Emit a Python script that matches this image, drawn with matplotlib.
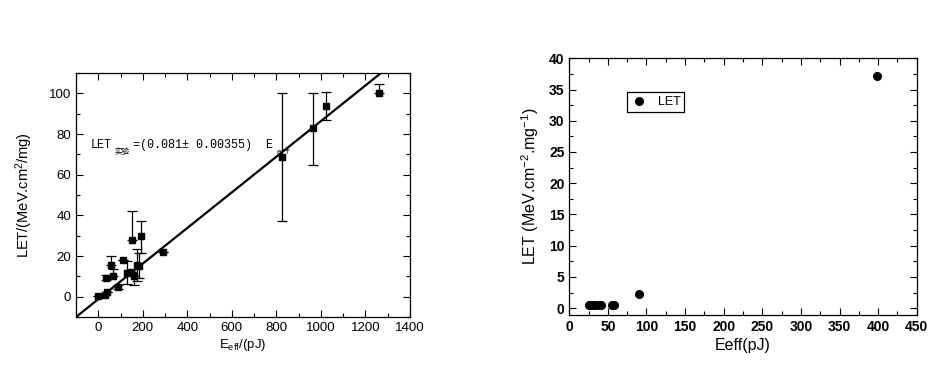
import numpy as np
import matplotlib
matplotlib.use("Agg")
import matplotlib.pyplot as plt
from matplotlib.ticker import MultipleLocator

plt.rcParams['font.family'] = ['Liberation Sans', 'DejaVu Sans']
plt.rcParams['mathtext.default'] = 'regular'

# Left panel: measured LET vs effective energy, with error bars
e_left = [0, 31, 39, 36, 57, 67, 90, 112, 130, 145, 152, 161, 174, 184, 192, 291, 826, 965, 1024, 1260]
let_left = [0.3, 0.8, 2.3, 9.3, 15.8, 10.0, 4.8, 17.8, 11.8, 12.0, 28.0, 10.0, 15.5, 15.2, 30.0, 22.2, 68.8, 83.0, 94.0, 100.0]
err_lo = [0, 0, 0, 1.2, 0, 0, 0.8, 0, 5.8, 0, 0, 4.5, 8.0, 6.0, 8.5, 0, 31.6, 18.0, 7.0, 0]
err_hi = [0, 0, 0, 1.2, 4.4, 3.7, 0.8, 0, 5.8, 0, 14.0, 0, 8.0, 6.5, 7.0, 0, 31.2, 17.0, 6.5, 4.5]

# linear fit drawn across the panel
fit_slope = 0.0876
fit_intercept = -1.24
fit_x = [-100, 1400]

# Right panel
e_right = [26, 29, 33, 38, 41, 55, 58, 90, 399]
let_right = [0.5, 0.5, 0.5, 0.5, 0.5, 0.5, 0.5, 2.2, 37.1]

fig = plt.figure(figsize=(9.36, 3.69), dpi=100)

# ---- left axes
ax1 = fig.add_axes([0.0812, 0.1409, 0.3568, 0.6612])
fx = np.array(fit_x, dtype=float)
ax1.plot(fx, fit_slope * fx + fit_intercept, color='black', lw=1.6)
ax1.errorbar(e_left, let_left, yerr=[err_lo, err_hi], fmt='s', color='black',
             markersize=4, elinewidth=0.9, capsize=3.5, capthick=0.9)
ax1.set_xlim(-100, 1400)
ax1.set_ylim(-10, 110)
ax1.xaxis.set_major_locator(MultipleLocator(200))
ax1.xaxis.set_minor_locator(MultipleLocator(100))
ax1.yaxis.set_major_locator(MultipleLocator(20))
ax1.yaxis.set_minor_locator(MultipleLocator(10))
ax1.tick_params(which='both', direction='in', top=True, right=True, labelsize=9.5, width=0.8)
ax1.tick_params(which='major', length=5)
ax1.tick_params(which='minor', length=3)
for s in ax1.spines.values():
    s.set_linewidth(0.9)
ax1.set_xlabel('E$_{eff}$/(pJ)', fontsize=9.5, labelpad=2)
ax1.set_ylabel('LET/(MeV.cm$^2$/mg)', fontsize=10.5, labelpad=10)

# fit annotation
mono = ['Liberation Mono', 'DejaVu Sans Mono']
ax1.text(-33, 73, 'LET', fontsize=8.5, family=mono)
ax1.text(72, 70.2, '实验', fontsize=5.5, family=['Noto Sans CJK SC', 'DejaVu Sans'])
ax1.text(155, 73, '=(0.081± 0.00355)  E', fontsize=8.5, family=mono)
ax1.text(800, 70.2, 'eff', fontsize=5.5, family=mono)

# ---- right axes
ax2 = fig.add_axes([0.6082, 0.1463, 0.3712, 0.6957])
ax2.plot(e_right, let_right, 'o', color='black', markersize=5.5, label='LET')
ax2.set_xlim(0, 450)
ax2.set_ylim(-1.1, 40)
ax2.xaxis.set_major_locator(MultipleLocator(50))
ax2.xaxis.set_minor_locator(MultipleLocator(25))
ax2.yaxis.set_major_locator(MultipleLocator(5))
ax2.yaxis.set_minor_locator(MultipleLocator(2.5))
ax2.tick_params(which='both', direction='in', top=True, right=True, labelsize=10, width=0.8)
ax2.tick_params(which='major', length=5)
ax2.tick_params(which='minor', length=3)
for lab in ax2.get_xticklabels() + ax2.get_yticklabels():
    lab.set_fontweight('bold')
for s in ax2.spines.values():
    s.set_linewidth(0.9)
ax2.set_xlabel('Eeff(pJ)', fontsize=11.5, labelpad=3)
ax2.set_ylabel('LET (MeV.cm$^{-2}$.mg$^{-1}$)', fontsize=11.5, labelpad=6)
leg = ax2.legend(loc='upper left', bbox_to_anchor=(0.147, 0.892), fontsize=9,
                 fancybox=False, edgecolor='black', framealpha=1, handletextpad=0.8,
                 borderpad=0.3, handlelength=1.4, markerscale=1.0)
leg.get_frame().set_linewidth(0.9)

fig.savefig('out.png', dpi=100)
